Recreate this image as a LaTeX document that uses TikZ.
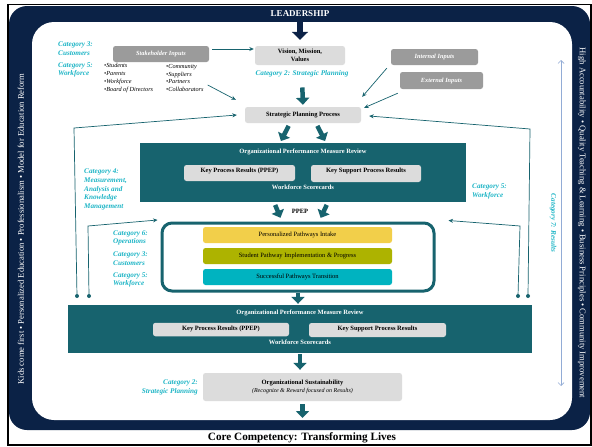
\documentclass[tikz,border=0pt]{standalone}
\usepackage{fontspec}
\setmainfont{Liberation Serif}
\usetikzlibrary{arrows.meta}
\definecolor{navyc}{HTML}{0B2246}
\definecolor{tealc}{HTML}{17636E}
\definecolor{catc}{HTML}{1DB5C6}
\definecolor{lgray}{HTML}{DCDCDC}
\definecolor{dgray}{HTML}{9B9B9B}
\definecolor{yelc}{HTML}{F2CF4A}
\definecolor{olivec}{HTML}{ADB300}
\definecolor{cyanbox}{HTML}{00B3C0}
\definecolor{lblue}{HTML}{92ACD6}
\begin{document}
\begin{tikzpicture}[x=1pt,y=-1pt,
  catlab/.style={text=catc,font=\fontsize{7.2}{8.7}\selectfont\bfseries\itshape,align=left,inner sep=0pt},
  gbox/.style={fill=lgray,rounded corners=2.5pt,inner sep=0pt,font=\fontsize{6.5}{7.5}\selectfont\bfseries,align=center},
  dbox/.style={fill=dgray,rounded corners=2.5pt,inner sep=0pt,text=white,font=\fontsize{6.3}{7}\selectfont\bfseries\itshape},
  tbox/.style={fill=tealc,inner sep=0pt},
  wlab/.style={text=white,font=\fontsize{6.5}{7}\selectfont\bfseries,inner sep=0pt},
  pbox/.style={rounded corners=2.5pt,inner sep=0pt,minimum width=189,minimum height=16,font=\fontsize{6.5}{7}\selectfont},
  tarrow/.style={draw=tealc,line width=0.7pt,-{Stealth[length=4.5pt,width=4pt]}},
  bigarrow/.style={draw=tealc,line width=4.5pt,-{Triangle[length=7pt,width=13pt]}},
  dotc/.style={circle,fill=tealc,inner sep=0pt,minimum size=4pt},
  listlab/.style={font=\fontsize{6.2}{7.8}\selectfont\itshape,align=left,inner sep=0pt},
  sidelab/.style={text=white,font=\fontsize{8.6}{9}\selectfont,inner sep=0pt}
]
\useasboundingbox (0,0) rectangle (592,447);
\fill[white] (0,0) rectangle (592,447);
\fill[navyc, rounded corners=18pt] (9,6) rectangle (590,430);
\fill[white, rounded corners=22pt] (32,22) rectangle (572,420);
\draw[black,line width=1.6pt] (8,4.5) rectangle (591,445);

% top
\node[text=white,font=\fontsize{9}{10}\selectfont\bfseries,inner sep=0pt] (lead) at (300,14) {LEADERSHIP};
\node[gbox,minimum width=90,minimum height=19] (vis) at (300,55.5) {Vision, Mission,\\Values};
\node[catlab] (cat2a) at (302,74) {Category 2: Strategic Planning};
\node[gbox,minimum width=116,minimum height=16] (spp) at (303,115) {Strategic Planning Process};
\node[dbox,minimum width=96,minimum height=16] (stake) at (161,54) {Stakeholder Inputs};
\node[dbox,minimum width=87,minimum height=16] (int) at (434.5,57) {Internal Inputs};
\node[dbox,minimum width=83,minimum height=17] (ext) at (441.5,80.5) {External Inputs};
\node[catlab,anchor=west] (c3a) at (58,49) {Category 3:\\Customers};
\node[catlab,anchor=west] (c5a) at (58,70) {Category 5:\\Workforce};
\node[listlab,anchor=west] (la) at (104,78) {\textbullet Students\\\textbullet Parents\\\textbullet Workforce\\\textbullet Board of Directors};
\node[listlab,anchor=west] (lb) at (166,78) {\textbullet Community\\\textbullet Suppliers\\\textbullet Partners\\\textbullet Collaborators};

% box 1
\node[tbox,minimum width=326,minimum height=59] (b1) at (303,172.5) {};
\node[wlab] (b1t) at (303,152) {Organizational Performance Measure Review};
\node[gbox,minimum width=111,minimum height=16,text height=4.8pt,text depth=6pt] (b1k) at (239.5,173) {Key Process Results (PPEP)};
\node[gbox,minimum width=110,minimum height=17,text height=4.8pt,text depth=6pt] (b1s) at (366,173.5) {Key Support Process Results};
\node[wlab] (b1w) at (303,187) {Workforce Scorecards};
\node[catlab,anchor=west] (c4) at (84,189.5) {Category 4:\\Measurement,\\Analysis and\\Knowledge\\Management};
\node[catlab,anchor=west] (c5b) at (472,191.5) {Category 5:\\Workforce};
\node[font=\fontsize{6.5}{7}\selectfont\bfseries,inner sep=0pt] (ppep) at (300,211) {PPEP};

% pathways
\node[draw=tealc,line width=3pt,rounded corners=10pt,minimum width=272,minimum height=68,inner sep=0pt] (pw) at (298,257) {};
\node[pbox,fill=yelc] (p1) at (297.5,235) {Personalized Pathways Intake};
\node[pbox,fill=olivec] (p2) at (297.5,256) {Student Pathway Implementation \& Progress};
\node[pbox,fill=cyanbox] (p3) at (297.5,277) {Successful Pathways Transition};
\node[catlab,anchor=west] (c6) at (113,238) {Category 6:\\Operations};
\node[catlab,anchor=west] (c3b) at (113,259) {Category 3:\\Customers};
\node[catlab,anchor=west] (c5c) at (113,280) {Category 5:\\Workforce};

% box 2
\node[tbox,minimum width=464,minimum height=48] (b2) at (300,329) {};
\node[wlab] (b2t) at (300,313) {Organizational Performance Measure Review};
\node[gbox,minimum width=136,minimum height=13.5,text height=4.8pt,text depth=3.5pt] (b2k) at (221,329.5) {Key Process Results (PPEP)};
\node[gbox,minimum width=137,minimum height=14,text height=4.8pt,text depth=3.5pt] (b2s) at (377.5,330) {Key Support Process Results};
\node[wlab] (b2w) at (300,342) {Workforce Scorecards};

% sustainability
\node[gbox,minimum width=199,minimum height=28,font=\fontsize{6.5}{8}\selectfont\bfseries] (os) at (302.5,387) {Organizational Sustainability\\{\fontsize{6}{8}\selectfont\mdseries\itshape (Recognize \& Reward focused on Results)}};
\node[catlab,anchor=east,align=right] (c2b) at (198,387.5) {Category 2:\\Strategic Planning};
\coordinate (osend) at (302.5,418);

\node[font=\fontsize{11.2}{12}\selectfont\bfseries,inner sep=0pt] (core) at (302,438) {Core Competency: Transforming Lives};

% side texts
\node[sidelab,rotate=90] (sl) at (21,229) {Kids come first \textbullet{} Personalized Education \textbullet{} Professionalism \textbullet{} Model for Education Reform};
\node[sidelab,rotate=-90] (sr) at (582,223) {High Accountability \textbullet{} Quality Teaching \& Learning \textbullet{} Business Principles \textbullet{} Community Improvement};

% category 7
\node[catlab,rotate=-90] (c7) at (553,223) {Category 7: Results};
\coordinate (r7t) at (561,60);
\coordinate (r7b) at (561,386);
\draw[lblue,line width=0.7pt,{Straight Barb[length=3pt,width=6pt]}-{Straight Barb[length=3pt,width=6pt]}] (r7t) -- (r7b);

% big arrows
\draw[bigarrow,draw=navyc,line width=6pt,-{Triangle[length=8pt,width=16pt]},shorten <=4pt,shorten >=6pt] (lead.south) -- (vis.north);
\draw[bigarrow,shorten <=10pt,shorten >=2pt] (cat2a.south) -- (spp.north);
\draw[bigarrow,shorten <=3pt,shorten >=2pt] ([shift={(-13,0)}]spp.south) -- ([shift={(-23,0)}]b1.north);
\draw[bigarrow,shorten <=3pt,shorten >=2pt] ([shift={(13,0)}]spp.south) -- ([shift={(23,0)}]b1.north);
\draw[bigarrow,shorten <=3pt,shorten >=4pt] ([shift={(-29,0)}]b1.south) -- ([shift={(-16,0)}]pw.north);
\draw[bigarrow,shorten <=3pt,shorten >=4pt] ([shift={(25,0)}]b1.south) -- ([shift={(21,0)}]pw.north);
\draw[bigarrow,shorten >=1pt] (pw.south) -- (pw.south |- b2.north);
\draw[bigarrow,shorten <=1pt,shorten >=3pt] (b2.south) -- (b2.south |- os.north);
\draw[bigarrow,shorten <=3pt] (os.south) -- (osend);

% thin arrows
\draw[tarrow] ([shift={(3,-5)}]stake.east) -- ([shift={(-1,-6.5)}]vis.west);
\draw[tarrow] ([shift={(4,7)}]lb.east) -- ([shift={(-9,-7)}]spp.north west);
\draw[tarrow] ([shift={(-4,3)}]int.south west) -- ([shift={(1,-10)}]spp.north east);
\draw[tarrow] ([shift={(-2,4)}]ext.south west) -- ([shift={(3,1)}]spp.north east);

% feedback loops
\node[dotc] (dl1) at (77,296) {};
\node[dotc] (dl2) at (89,296) {};
\node[dotc] (dr2) at (518,296) {};
\node[dotc] (dr1) at (528,296) {};
\coordinate (kl1) at (74,128);
\coordinate (kl2) at (88,226);
\coordinate (kr1) at (530,129);
\coordinate (kr2) at (520,226);
\draw[tarrow] (dl1) -- (kl1) -- ([shift={(-8,0)}]spp.west);
\draw[tarrow] (dl2) -- (kl2) -- ([shift={(-3,-1.5)}]pw.north west);
\draw[tarrow] (dr1) -- (kr1) -- ([shift={(8,1)}]spp.east);
\draw[tarrow] (dr2) -- (kr2) -- ([shift={(13,-1)}]pw.north east);
\end{tikzpicture}
\end{document}
